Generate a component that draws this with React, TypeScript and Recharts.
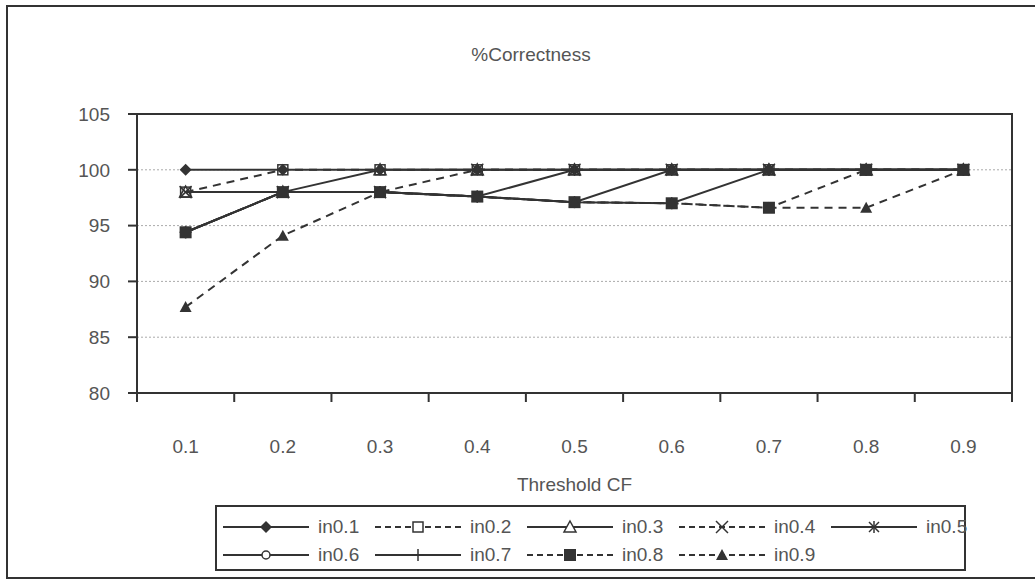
import React from 'react';
import { LineChart, Line, XAxis, YAxis, CartesianGrid, ReferenceArea } from 'recharts';

const INK = '#333333';
const TEXT = '#555555';
const FONT = '"Liberation Sans", Arial, sans-serif';

// x categories (threshold CF)
const categories = ['0.1', '0.2', '0.3', '0.4', '0.5', '0.6', '0.7', '0.8', '0.9'];
const yTicks = [80, 85, 90, 95, 100, 105];

// %correctness per series
const in01 = [100, 100, 100, 100, 100, 100, 100, 100, 100];
const in02 = [98, 100, 100, 100, 100, 100, 100, 100, 100];
const in03 = [98, 98, 100, 100, 100, 100, 100, 100, 100];
const in04 = [98, 98, 98, 100, 100, 100, 100, 100, 100];
const in05 = [94.4, 98, 98, 97.6, 100, 100, 100, 100, 100];
const in06 = [94.4, 98, 98, 97.6, 97.1, 100, 100, 100, 100];
const in07 = [94.4, 98, 98, 97.6, 97.1, 97.0, 100, 100, 100];
const in08 = [94.4, 98, 98, 97.6, 97.1, 97.0, 96.6, 100, 100];
const in09 = [87.7, 94.1, 98, 97.6, 97.1, 97.0, 96.6, 96.6, 100];

type Shape = 'diamond' | 'square' | 'triangle' | 'x' | 'star' | 'circle' | 'plus' | 'fsquare' | 'ftriangle';

const series: { key: string; name: string; values: number[]; dashed: boolean; shape: Shape }[] = [
  { key: 'in01', name: 'in0.1', values: in01, dashed: false, shape: 'diamond' },
  { key: 'in02', name: 'in0.2', values: in02, dashed: true, shape: 'square' },
  { key: 'in03', name: 'in0.3', values: in03, dashed: false, shape: 'triangle' },
  { key: 'in04', name: 'in0.4', values: in04, dashed: true, shape: 'x' },
  { key: 'in05', name: 'in0.5', values: in05, dashed: false, shape: 'star' },
  { key: 'in06', name: 'in0.6', values: in06, dashed: false, shape: 'circle' },
  { key: 'in07', name: 'in0.7', values: in07, dashed: false, shape: 'plus' },
  { key: 'in08', name: 'in0.8', values: in08, dashed: true, shape: 'fsquare' },
  { key: 'in09', name: 'in0.9', values: in09, dashed: true, shape: 'ftriangle' },
];

// points sit in the middle of each category band, ticks on the band edges
const rows = categories.map((label, i) => {
  const row: Record<string, number | string> = { pos: i + 0.5, label };
  series.forEach(s => { row[s.key] = s.values[i]; });
  return row;
});
const xTicks: number[] = [];
for (let i = 0; i <= categories.length * 2; i++) xTicks.push(i / 2);

function Marker({ shape, cx, cy, fill = 'none' }: { shape: Shape; cx: number; cy: number; fill?: string }) {
  const s = 6;
  switch (shape) {
    case 'diamond':
      return <polygon points={`${cx},${cy - s} ${cx + s},${cy} ${cx},${cy + s} ${cx - s},${cy}`} fill={INK} />;
    case 'square':
      return <rect x={cx - 5} y={cy - 5} width={10} height={10} fill={fill} stroke={INK} strokeWidth={1.5} />;
    case 'triangle':
      return <polygon points={`${cx},${cy - 6} ${cx + 6},${cy + 5} ${cx - 6},${cy + 5}`} fill={fill} stroke={INK} strokeWidth={1.5} />;
    case 'x':
      return (
        <g stroke={INK} strokeWidth={1.5}>
          <line x1={cx - 6} y1={cy - 6} x2={cx + 6} y2={cy + 6} />
          <line x1={cx - 6} y1={cy + 6} x2={cx + 6} y2={cy - 6} />
        </g>
      );
    case 'star':
      return (
        <g stroke={INK} strokeWidth={1.5}>
          <line x1={cx - 5} y1={cy - 5} x2={cx + 5} y2={cy + 5} />
          <line x1={cx - 5} y1={cy + 5} x2={cx + 5} y2={cy - 5} />
          <line x1={cx} y1={cy - 6} x2={cx} y2={cy + 6} />
        </g>
      );
    case 'circle':
      return <circle cx={cx} cy={cy} r={4} fill={fill} stroke={INK} strokeWidth={1.5} />;
    case 'plus':
      return (
        <g stroke={INK} strokeWidth={1.5}>
          <line x1={cx} y1={cy - 6} x2={cx} y2={cy + 6} />
          <line x1={cx - 6} y1={cy} x2={cx + 6} y2={cy} />
        </g>
      );
    case 'fsquare':
      return <rect x={cx - 6} y={cy - 6} width={12} height={12} fill={INK} />;
    case 'ftriangle':
      return <polygon points={`${cx},${cy - 6} ${cx + 6},${cy + 5} ${cx - 6},${cy + 5}`} fill={INK} />;
  }
  return null;
}

function XTick(props: any) {
  const { x, y, payload } = props;
  const v = payload.value as number;
  if (Number.isInteger(v)) {
    return <line x1={x} y1={y} x2={x} y2={y + 9} stroke={INK} strokeWidth={2} />;
  }
  return (
    <text x={x} y={y + 60} textAnchor="middle" fill={TEXT} fontSize={19} fontFamily={FONT}>
      {categories[Math.floor(v)]}
    </text>
  );
}

function LegendBox() {
  const perRow = 5;
  return (
    <div
      style={{
        position: 'absolute', left: 215, top: 505, width: 751, height: 66,
        border: `2px solid ${INK}`, boxSizing: 'border-box', background: '#fff',
      }}
    >
      {series.map((s, i) => {
        const col = i % perRow;
        const row = Math.floor(i / perRow);
        return (
          <div
            key={s.key}
            style={{
              position: 'absolute', left: 5 + col * 152, top: 9 + row * 28, height: 22,
              display: 'flex', alignItems: 'center',
            }}
          >
            <svg width={88} height={22}>
              <line x1={1} y1={11} x2={87} y2={11} stroke={INK} strokeWidth={2} strokeDasharray={s.dashed ? '6 4' : undefined} />
              <Marker shape={s.shape} cx={44} cy={11} fill="#fff" />
            </svg>
            <span style={{ marginLeft: 8, fontSize: 19, fontFamily: FONT, color: TEXT }}>{s.name}</span>
          </div>
        );
      })}
    </div>
  );
}

export default function App() {
  return (
    <div style={{ position: 'absolute', left: 0, top: 0, width: 1035, height: 582, overflow: 'hidden', background: '#fff' }}>
      {/* outer chart frame, right edge runs off the page like the scan */}
      <div style={{ position: 'absolute', left: 6, top: 5, width: 1040, height: 574, border: `2px solid ${INK}`, boxSizing: 'border-box' }} />
      <div style={{ position: 'absolute', left: 0, width: 1062, top: 44, textAlign: 'center', fontSize: 19, fontFamily: FONT, color: TEXT }}>
        %Correctness
      </div>
      <div style={{ position: 'absolute', left: 0, top: 0 }}>
        <LineChart width={1035} height={582} data={rows} margin={{ top: 114, right: 23, left: 67, bottom: 89 }}>
          <CartesianGrid horizontal vertical={false} stroke="#aaa" strokeDasharray="2 2" />
          <XAxis
            dataKey="pos"
            type="number"
            domain={[0, categories.length]}
            ticks={xTicks}
            interval={0}
            height={100}
            tickLine={false}
            tickSize={0}
            tickMargin={0}
            tick={<XTick />}
            axisLine={{ stroke: INK, strokeWidth: 2 }}
            label={{ value: 'Threshold CF', position: 'insideBottom', offset: 2, fill: TEXT, fontSize: 19, fontFamily: FONT }}
          />
          <YAxis
            domain={[80, 105]}
            ticks={yTicks}
            interval={0}
            width={70}
            tickSize={9}
            tickMargin={18}
            tickLine={{ stroke: INK, strokeWidth: 2 }}
            axisLine={{ stroke: INK, strokeWidth: 2 }}
            tick={{ fill: TEXT, fontSize: 19, fontFamily: FONT }}
          />
          <ReferenceArea x1={0} x2={categories.length} y1={80} y2={105} fill="none" stroke={INK} strokeWidth={2} />
          {series.map(s => (
            <Line
              key={s.key}
              dataKey={s.key}
              name={s.name}
              type="linear"
              stroke={INK}
              strokeWidth={2}
              strokeDasharray={s.dashed ? '8 6' : undefined}
              isAnimationActive={false}
              dot={(p: any) => <Marker key={`${s.key}-${p.index}`} shape={s.shape} cx={p.cx} cy={p.cy} />}
              activeDot={false}
            />
          ))}
        </LineChart>
      </div>
      <LegendBox />
    </div>
  );
}
